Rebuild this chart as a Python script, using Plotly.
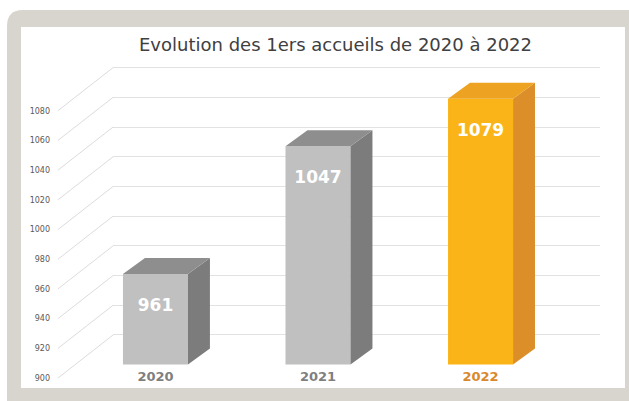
import plotly.graph_objects as go

# ---- data ----
years = ["2020", "2021", "2022"]
values = [961, 1047, 1079]
tick_values = [900, 920, 940, 960, 980, 1000, 1020, 1040, 1060, 1080]
title_text = "Evolution des 1ers accueils de 2020 à 2022"

# ---- style ----
BASE = 900
front_colors = ["#c0c0c0", "#c0c0c0", "#fbb417"]
top_colors = ["#8e8e8e", "#8e8e8e", "#eda321"]
side_colors = ["#7c7c7c", "#7c7c7c", "#dc8f29"]
year_colors = ["#7f7f7f", "#7f7f7f", "#d9892b"]
BAR_W = 0.4
DX, DY = 0.135, 10.8            # bar depth (x units, value units)
WALL_SHIFT = 19.9                # back wall offset (value units)
FRONT_SHIFT = -9.1               # front edge offset (value units)
LABEL_DROP = 22
FRONT_X, WALL_X = -0.600, -0.261
W, H = 629, 401
R0, R1 = 884.2, 1105.05
XR = [-0.612, 2.735]
ydom = [1 - 388 / H, 1 - 60 / H]

fig = go.Figure()

# anchor trace for the back-wall subplot (keeps its gridlines drawn)
fig.add_trace(go.Scatter(x=[0.5], y=[tick_values[0]], mode="markers",
                         marker=dict(opacity=0), xaxis="x", yaxis="y",
                         hoverinfo="skip"))

# bars: front faces
xs = list(range(len(years)))
fig.add_trace(go.Bar(
    x=xs, y=[v - BASE for v in values], base=BASE, width=BAR_W,
    marker=dict(color=front_colors, line=dict(width=0)),
    xaxis="x2", yaxis="y2", hoverinfo="skip"))

# side and top faces
for i, v in enumerate(values):
    xr = i + BAR_W / 2
    xl = i - BAR_W / 2
    fig.add_trace(go.Scatter(
        x=[xr, xr, xr + DX, xr + DX, xr], y=[BASE, v, v + DY, BASE + DY, BASE],
        fill="toself", fillcolor=side_colors[i], mode="lines",
        line=dict(width=0, color=side_colors[i]),
        xaxis="x2", yaxis="y2", hoverinfo="skip"))
    fig.add_trace(go.Scatter(
        x=[xl, xr, xr + DX, xl + DX, xl], y=[v, v, v + DY, v + DY, v],
        fill="toself", fillcolor=top_colors[i], mode="lines",
        line=dict(width=0, color=top_colors[i]),
        xaxis="x2", yaxis="y2", hoverinfo="skip"))

# value labels
fig.add_trace(go.Scatter(
    x=xs, y=[v - LABEL_DROP for v in values], mode="text",
    text=[str(v) for v in values],
    textfont=dict(family="DejaVu Sans", size=17, color="white", weight="bold"),
    xaxis="x2", yaxis="y2", hoverinfo="skip", cliponaxis=False))

# year labels
fig.add_trace(go.Scatter(
    x=xs, y=[BASE + FRONT_SHIFT] * len(xs), mode="text", text=years,
    textfont=dict(family="DejaVu Sans", size=13, color=year_colors, weight="bold"),
    xaxis="x2", yaxis="y2", hoverinfo="skip", cliponaxis=False))

# side-wall diagonals (front tick -> back wall)
dx_list, dy_list = [], []
for t in tick_values:
    dx_list += [FRONT_X, WALL_X, None]
    dy_list += [t, t + (WALL_SHIFT - FRONT_SHIFT), None]
fig.add_trace(go.Scatter(
    x=dx_list, y=dy_list, mode="lines", line=dict(color="#dcdcdc", width=1),
    xaxis="x2", yaxis="y3", hoverinfo="skip"))

frame = ("M {x0},{y1} L {x0},{yt} Q {x0},{ytop} {xc},{ytop} L 1.1,{ytop} "
         "L 1.1,-0.1 L {x0},-0.1 Z")
r_x, r_y = 16 / W, 16 / H
x0 = 7 / W
ytop = 1 - 10 / H
fig.update_layout(
    width=W, height=H,
    margin=dict(l=0, r=0, t=0, b=0),
    paper_bgcolor="white", plot_bgcolor="rgba(0,0,0,0)",
    showlegend=False, hovermode=False,
    title=dict(text=title_text, x=335.5 / W, xanchor="center",
               y=1 - 45 / H, yanchor="middle",
               font=dict(family="DejaVu Sans", size=18, color="#404040")),
    # back wall subplot (gridlines)
    xaxis=dict(domain=[113 / W, 600 / W], range=[0, 1], visible=False,
               anchor="y"),
    yaxis=dict(domain=ydom, range=[R0 - WALL_SHIFT, R1 - WALL_SHIFT],
               anchor="x",
               tickvals=tick_values, showgrid=True, gridcolor="#e2e2e2",
               gridwidth=1, showticklabels=False, zeroline=False,
               showline=False, ticks=""),
    # main subplot
    xaxis2=dict(domain=[56 / W, 600 / W], range=XR, visible=False,
                anchor="y2"),
    yaxis2=dict(domain=ydom, range=[R0, R1], visible=False, anchor="x2"),
    yaxis3=dict(overlaying="y2", anchor="x2", side="left",
                range=[R0 - FRONT_SHIFT, R1 - FRONT_SHIFT],
                tickvals=tick_values, showgrid=False, zeroline=False,
                showline=False, ticks="", ticklabelstandoff=5,
                tickfont=dict(family="DejaVu Sans", size=8, color="#595959")),
    shapes=[
        dict(type="path", xref="paper", yref="paper", layer="below",
             path=frame.format(x0=x0, y1=-0.1, yt=ytop - r_y, ytop=ytop,
                               xc=x0 + r_x),
             fillcolor="#d8d4ce", line=dict(width=0)),
        dict(type="rect", xref="paper", yref="paper", layer="below",
             x0=21 / W, x1=625 / W, y0=1 - 388 / H, y1=1 - 27 / H,
             fillcolor="white", line=dict(width=0)),
    ],
)

fig.write_html("out.html",
               config={"displayModeBar": False, "staticPlot": True},
               post_script="document.body.style.margin='0';"
                           "document.body.style.padding='0';")
